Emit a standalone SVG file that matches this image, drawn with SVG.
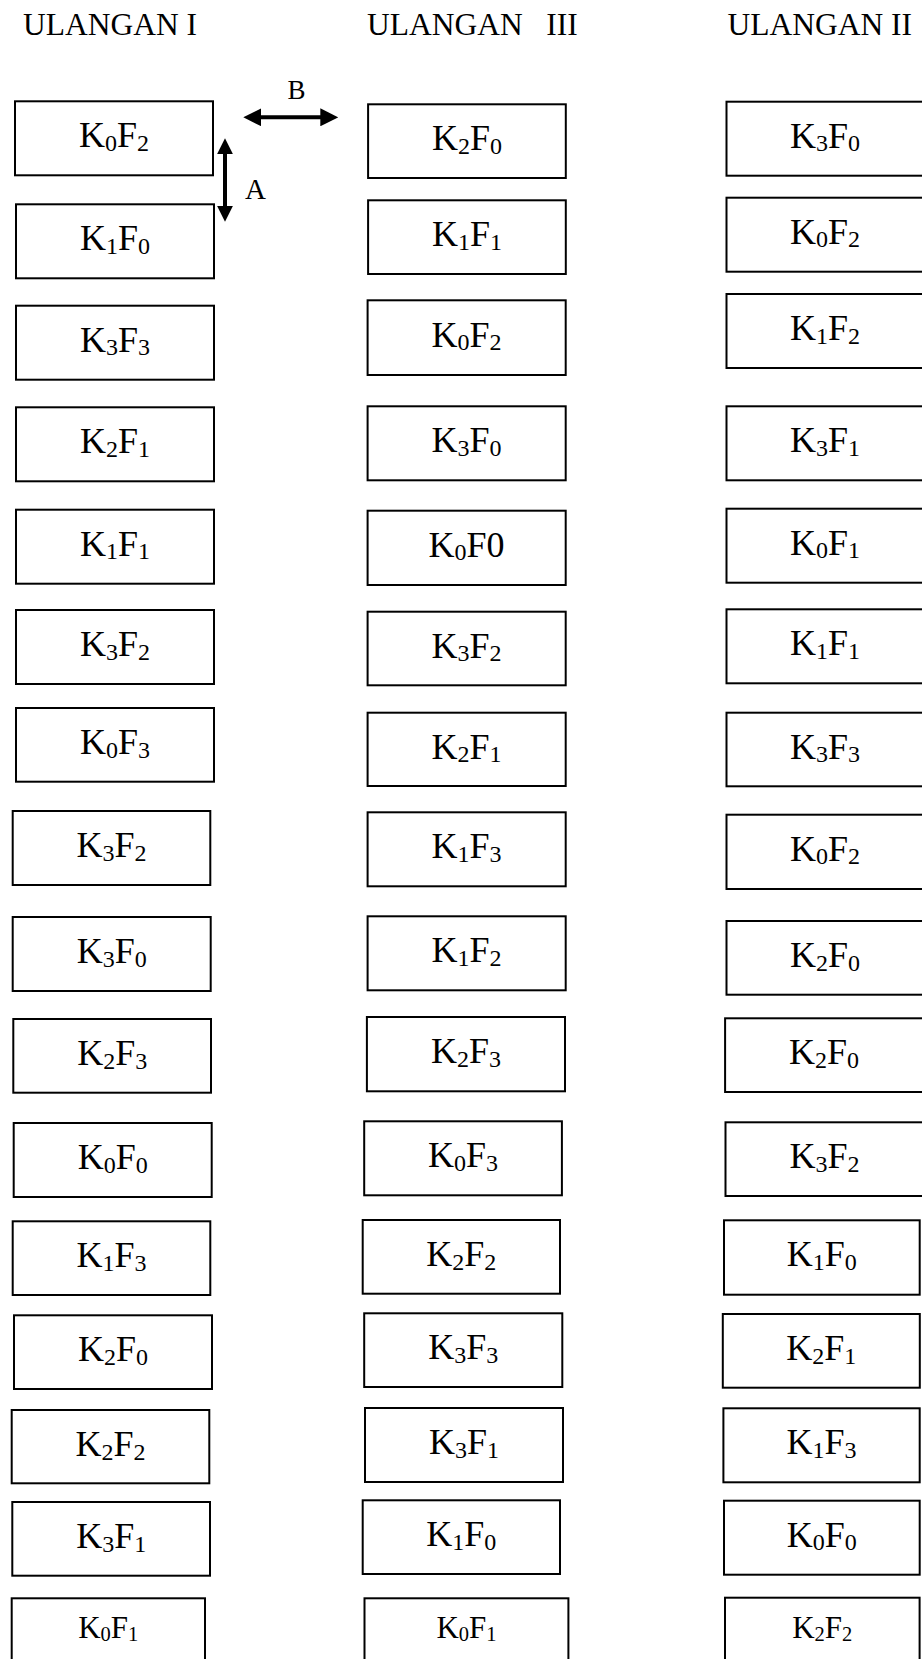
<svg xmlns="http://www.w3.org/2000/svg" width="922" height="1659" viewBox="0 0 922 1659">
<style>
.box{fill:#fff;stroke:#000;stroke-width:2}
.t{font-family:"Liberation Serif","Times New Roman",serif;fill:#000}
.lbl{font-size:36px;text-anchor:middle}
.sub{font-size:24px}
.lbls{font-size:31px;text-anchor:middle}
.subs{font-size:20.5px}
.title{font-size:31.5px}
.ar{stroke:#000;stroke-width:4;fill:none}
</style>
<defs>
<marker id="headB" viewBox="0 0 18 18" refX="8" refY="9" markerWidth="18" markerHeight="18" markerUnits="userSpaceOnUse" orient="auto-start-reverse"><path d="M0,0 L18,9 L0,18 z" fill="#000"/></marker>
<marker id="headA" viewBox="0 0 16 16" refX="7" refY="8" markerWidth="16" markerHeight="16" markerUnits="userSpaceOnUse" orient="auto-start-reverse"><path d="M0,0 L16,8 L0,16 z" fill="#000"/></marker>
</defs>
<rect width="922" height="1659" fill="#fff"/>
<g id="titles">
<text class="t title" x="23" y="35">ULANGAN I</text>
<text class="t title" x="367" y="35" xml:space="preserve">ULANGAN   III</text>
<text class="t title" x="727.5" y="35">ULANGAN II</text>
</g>
<g id="connectors">
<line class="ar" x1="253.3" y1="117.3" x2="328.3" y2="117.3" marker-start="url(#headB)" marker-end="url(#headB)"/>
<line class="ar" x1="225" y1="147.3" x2="225" y2="212.7" marker-start="url(#headA)" marker-end="url(#headA)"/>
<text class="t" x="296.5" y="99" font-size="27" text-anchor="middle">B</text>
<text class="t" x="245" y="199.3" font-size="29">A</text>
</g>
<!-- Column ULANGAN I -->
<g id="u1-1"><rect class="box" x="15" y="101.3" width="198" height="74"/><text class="t lbl" x="114" y="147.3">K<tspan class="sub" dy="3.5">0</tspan><tspan dy="-3.5">F</tspan><tspan class="sub" dy="3.5">2</tspan></text></g>
<g id="u1-2"><rect class="box" x="16" y="204.3" width="198" height="74"/><text class="t lbl" x="115" y="250.3">K<tspan class="sub" dy="3.5">1</tspan><tspan dy="-3.5">F</tspan><tspan class="sub" dy="3.5">0</tspan></text></g>
<g id="u1-3"><rect class="box" x="16" y="305.7" width="198" height="74"/><text class="t lbl" x="115" y="351.7">K<tspan class="sub" dy="3.5">3</tspan><tspan dy="-3.5">F</tspan><tspan class="sub" dy="3.5">3</tspan></text></g>
<g id="u1-4"><rect class="box" x="16" y="407.3" width="198" height="74"/><text class="t lbl" x="115" y="453.3">K<tspan class="sub" dy="3.5">2</tspan><tspan dy="-3.5">F</tspan><tspan class="sub" dy="3.5">1</tspan></text></g>
<g id="u1-5"><rect class="box" x="16" y="509.7" width="198" height="74"/><text class="t lbl" x="115" y="555.7">K<tspan class="sub" dy="3.5">1</tspan><tspan dy="-3.5">F</tspan><tspan class="sub" dy="3.5">1</tspan></text></g>
<g id="u1-6"><rect class="box" x="16" y="610" width="198" height="74"/><text class="t lbl" x="115" y="656">K<tspan class="sub" dy="3.5">3</tspan><tspan dy="-3.5">F</tspan><tspan class="sub" dy="3.5">2</tspan></text></g>
<g id="u1-7"><rect class="box" x="16" y="708" width="198" height="73.7"/><text class="t lbl" x="115" y="754">K<tspan class="sub" dy="3.5">0</tspan><tspan dy="-3.5">F</tspan><tspan class="sub" dy="3.5">3</tspan></text></g>
<g id="u1-8"><rect class="box" x="12.7" y="811" width="197.6" height="74"/><text class="t lbl" x="111.5" y="857">K<tspan class="sub" dy="3.5">3</tspan><tspan dy="-3.5">F</tspan><tspan class="sub" dy="3.5">2</tspan></text></g>
<g id="u1-9"><rect class="box" x="12.7" y="917" width="198" height="74"/><text class="t lbl" x="111.7" y="963">K<tspan class="sub" dy="3.5">3</tspan><tspan dy="-3.5">F</tspan><tspan class="sub" dy="3.5">0</tspan></text></g>
<g id="u1-10"><rect class="box" x="13.3" y="1019" width="197.7" height="73.7"/><text class="t lbl" x="112.2" y="1065">K<tspan class="sub" dy="3.5">2</tspan><tspan dy="-3.5">F</tspan><tspan class="sub" dy="3.5">3</tspan></text></g>
<g id="u1-11"><rect class="box" x="13.7" y="1123" width="198" height="74"/><text class="t lbl" x="112.7" y="1169">K<tspan class="sub" dy="3.5">0</tspan><tspan dy="-3.5">F</tspan><tspan class="sub" dy="3.5">0</tspan></text></g>
<g id="u1-12"><rect class="box" x="12.7" y="1221.3" width="197.6" height="73.7"/><text class="t lbl" x="111.5" y="1267.3">K<tspan class="sub" dy="3.5">1</tspan><tspan dy="-3.5">F</tspan><tspan class="sub" dy="3.5">3</tspan></text></g>
<g id="u1-13"><rect class="box" x="14" y="1315.3" width="198" height="73.7"/><text class="t lbl" x="113" y="1361.3">K<tspan class="sub" dy="3.5">2</tspan><tspan dy="-3.5">F</tspan><tspan class="sub" dy="3.5">0</tspan></text></g>
<g id="u1-14"><rect class="box" x="11.7" y="1410" width="197.6" height="73.3"/><text class="t lbl" x="110.5" y="1456">K<tspan class="sub" dy="3.5">2</tspan><tspan dy="-3.5">F</tspan><tspan class="sub" dy="3.5">2</tspan></text></g>
<g id="u1-15"><rect class="box" x="12.3" y="1502" width="197.7" height="73.7"/><text class="t lbl" x="111.2" y="1548">K<tspan class="sub" dy="3.5">3</tspan><tspan dy="-3.5">F</tspan><tspan class="sub" dy="3.5">1</tspan></text></g>
<g id="u1-16"><rect class="box" x="11.7" y="1598.3" width="193.3" height="80"/><text class="t lbls" x="108.3" y="1638">K<tspan class="subs" dy="3">0</tspan><tspan dy="-3">F</tspan><tspan class="subs" dy="3">1</tspan></text></g>
<!-- Column ULANGAN III -->
<g id="u3-1"><rect class="box" x="368.1" y="104.3" width="197.7" height="73.7"/><text class="t lbl" x="467" y="150.3">K<tspan class="sub" dy="3.5">2</tspan><tspan dy="-3.5">F</tspan><tspan class="sub" dy="3.5">0</tspan></text></g>
<g id="u3-2"><rect class="box" x="368.1" y="200.3" width="197.7" height="73.7"/><text class="t lbl" x="467" y="246.3">K<tspan class="sub" dy="3.5">1</tspan><tspan dy="-3.5">F</tspan><tspan class="sub" dy="3.5">1</tspan></text></g>
<g id="u3-3"><rect class="box" x="367.6" y="300.3" width="198.1" height="74.7"/><text class="t lbl" x="466.6" y="346.8">K<tspan class="sub" dy="3.5">0</tspan><tspan dy="-3.5">F</tspan><tspan class="sub" dy="3.5">2</tspan></text></g>
<g id="u3-4"><rect class="box" x="367.6" y="406.3" width="198.1" height="74"/><text class="t lbl" x="466.6" y="452.3">K<tspan class="sub" dy="3.5">3</tspan><tspan dy="-3.5">F</tspan><tspan class="sub" dy="3.5">0</tspan></text></g>
<g id="u3-5"><rect class="box" x="367.6" y="510.7" width="198.1" height="74.3"/><text class="t lbl" x="466.6" y="556.7">K<tspan class="sub" dy="3.5">0</tspan><tspan dy="-3.5">F0</tspan></text></g>
<g id="u3-6"><rect class="box" x="367.6" y="611.7" width="198.1" height="73.6"/><text class="t lbl" x="466.6" y="657.7">K<tspan class="sub" dy="3.5">3</tspan><tspan dy="-3.5">F</tspan><tspan class="sub" dy="3.5">2</tspan></text></g>
<g id="u3-7"><rect class="box" x="367.6" y="712.7" width="198.1" height="73.3"/><text class="t lbl" x="466.6" y="758.7">K<tspan class="sub" dy="3.5">2</tspan><tspan dy="-3.5">F</tspan><tspan class="sub" dy="3.5">1</tspan></text></g>
<g id="u3-8"><rect class="box" x="367.6" y="812.3" width="198.1" height="74"/><text class="t lbl" x="466.6" y="858.3">K<tspan class="sub" dy="3.5">1</tspan><tspan dy="-3.5">F</tspan><tspan class="sub" dy="3.5">3</tspan></text></g>
<g id="u3-9"><rect class="box" x="367.6" y="916.3" width="198.1" height="74"/><text class="t lbl" x="466.6" y="962.3">K<tspan class="sub" dy="3.5">1</tspan><tspan dy="-3.5">F</tspan><tspan class="sub" dy="3.5">2</tspan></text></g>
<g id="u3-10"><rect class="box" x="366.9" y="1017" width="198.1" height="74.3"/><text class="t lbl" x="466" y="1063">K<tspan class="sub" dy="3.5">2</tspan><tspan dy="-3.5">F</tspan><tspan class="sub" dy="3.5">3</tspan></text></g>
<g id="u3-11"><rect class="box" x="364.2" y="1121.3" width="197.7" height="74"/><text class="t lbl" x="463" y="1167.3">K<tspan class="sub" dy="3.5">0</tspan><tspan dy="-3.5">F</tspan><tspan class="sub" dy="3.5">3</tspan></text></g>
<g id="u3-12"><rect class="box" x="362.7" y="1220" width="197.3" height="73.7"/><text class="t lbl" x="461.3" y="1266">K<tspan class="sub" dy="3.5">2</tspan><tspan dy="-3.5">F</tspan><tspan class="sub" dy="3.5">2</tspan></text></g>
<g id="u3-13"><rect class="box" x="364.2" y="1313.3" width="198.1" height="73.7"/><text class="t lbl" x="463.2" y="1359.3">K<tspan class="sub" dy="3.5">3</tspan><tspan dy="-3.5">F</tspan><tspan class="sub" dy="3.5">3</tspan></text></g>
<g id="u3-14"><rect class="box" x="365" y="1408" width="198" height="74"/><text class="t lbl" x="464" y="1454">K<tspan class="sub" dy="3.5">3</tspan><tspan dy="-3.5">F</tspan><tspan class="sub" dy="3.5">1</tspan></text></g>
<g id="u3-15"><rect class="box" x="362.7" y="1500.3" width="197.3" height="73.7"/><text class="t lbl" x="461.3" y="1546.3">K<tspan class="sub" dy="3.5">1</tspan><tspan dy="-3.5">F</tspan><tspan class="sub" dy="3.5">0</tspan></text></g>
<g id="u3-16"><rect class="box" x="364.5" y="1598.3" width="203.9" height="80"/><text class="t lbls" x="466.5" y="1638">K<tspan class="subs" dy="3">0</tspan><tspan dy="-3">F</tspan><tspan class="subs" dy="3">1</tspan></text></g>
<!-- Column ULANGAN II -->
<g id="u2-1"><rect class="box" x="726.5" y="101.7" width="200" height="74"/><text class="t lbl" x="825" y="147.7">K<tspan class="sub" dy="3.5">3</tspan><tspan dy="-3.5">F</tspan><tspan class="sub" dy="3.5">0</tspan></text></g>
<g id="u2-2"><rect class="box" x="726.5" y="197.7" width="200" height="74"/><text class="t lbl" x="825" y="243.7">K<tspan class="sub" dy="3.5">0</tspan><tspan dy="-3.5">F</tspan><tspan class="sub" dy="3.5">2</tspan></text></g>
<g id="u2-3"><rect class="box" x="726.5" y="294" width="200" height="74"/><text class="t lbl" x="825" y="340">K<tspan class="sub" dy="3.5">1</tspan><tspan dy="-3.5">F</tspan><tspan class="sub" dy="3.5">2</tspan></text></g>
<g id="u2-4"><rect class="box" x="726.5" y="406.3" width="200" height="74"/><text class="t lbl" x="825" y="452.3">K<tspan class="sub" dy="3.5">3</tspan><tspan dy="-3.5">F</tspan><tspan class="sub" dy="3.5">1</tspan></text></g>
<g id="u2-5"><rect class="box" x="726.5" y="508.7" width="200" height="74"/><text class="t lbl" x="825" y="554.7">K<tspan class="sub" dy="3.5">0</tspan><tspan dy="-3.5">F</tspan><tspan class="sub" dy="3.5">1</tspan></text></g>
<g id="u2-6"><rect class="box" x="726.5" y="609.3" width="200" height="74"/><text class="t lbl" x="825" y="655.3">K<tspan class="sub" dy="3.5">1</tspan><tspan dy="-3.5">F</tspan><tspan class="sub" dy="3.5">1</tspan></text></g>
<g id="u2-7"><rect class="box" x="726.5" y="712.7" width="200" height="73.6"/><text class="t lbl" x="825" y="758.7">K<tspan class="sub" dy="3.5">3</tspan><tspan dy="-3.5">F</tspan><tspan class="sub" dy="3.5">3</tspan></text></g>
<g id="u2-8"><rect class="box" x="726.5" y="814.7" width="200" height="74.3"/><text class="t lbl" x="825" y="860.7">K<tspan class="sub" dy="3.5">0</tspan><tspan dy="-3.5">F</tspan><tspan class="sub" dy="3.5">2</tspan></text></g>
<g id="u2-9"><rect class="box" x="726.5" y="921" width="200" height="73.7"/><text class="t lbl" x="825" y="967">K<tspan class="sub" dy="3.5">2</tspan><tspan dy="-3.5">F</tspan><tspan class="sub" dy="3.5">0</tspan></text></g>
<g id="u2-10"><rect class="box" x="725.1" y="1018.3" width="200" height="73.7"/><text class="t lbl" x="824" y="1064.3">K<tspan class="sub" dy="3.5">2</tspan><tspan dy="-3.5">F</tspan><tspan class="sub" dy="3.5">0</tspan></text></g>
<g id="u2-11"><rect class="box" x="725.5" y="1122.3" width="200" height="73.7"/><text class="t lbl" x="824.5" y="1168.3">K<tspan class="sub" dy="3.5">3</tspan><tspan dy="-3.5">F</tspan><tspan class="sub" dy="3.5">2</tspan></text></g>
<g id="u2-12"><rect class="box" x="724" y="1220.3" width="195.7" height="74.4"/><text class="t lbl" x="821.8" y="1266.3">K<tspan class="sub" dy="3.5">1</tspan><tspan dy="-3.5">F</tspan><tspan class="sub" dy="3.5">0</tspan></text></g>
<g id="u2-13"><rect class="box" x="722.8" y="1314" width="197" height="73.7"/><text class="t lbl" x="821.3" y="1360">K<tspan class="sub" dy="3.5">2</tspan><tspan dy="-3.5">F</tspan><tspan class="sub" dy="3.5">1</tspan></text></g>
<g id="u2-14"><rect class="box" x="723.4" y="1408.3" width="196.3" height="74"/><text class="t lbl" x="821.5" y="1454.3">K<tspan class="sub" dy="3.5">1</tspan><tspan dy="-3.5">F</tspan><tspan class="sub" dy="3.5">3</tspan></text></g>
<g id="u2-15"><rect class="box" x="724" y="1500.7" width="195.7" height="74"/><text class="t lbl" x="821.8" y="1546.7">K<tspan class="sub" dy="3.5">0</tspan><tspan dy="-3.5">F</tspan><tspan class="sub" dy="3.5">0</tspan></text></g>
<g id="u2-16"><rect class="box" x="725" y="1597.7" width="194.6" height="80"/><text class="t lbls" x="822.3" y="1638">K<tspan class="subs" dy="3">2</tspan><tspan dy="-3">F</tspan><tspan class="subs" dy="3">2</tspan></text></g>
</svg>
